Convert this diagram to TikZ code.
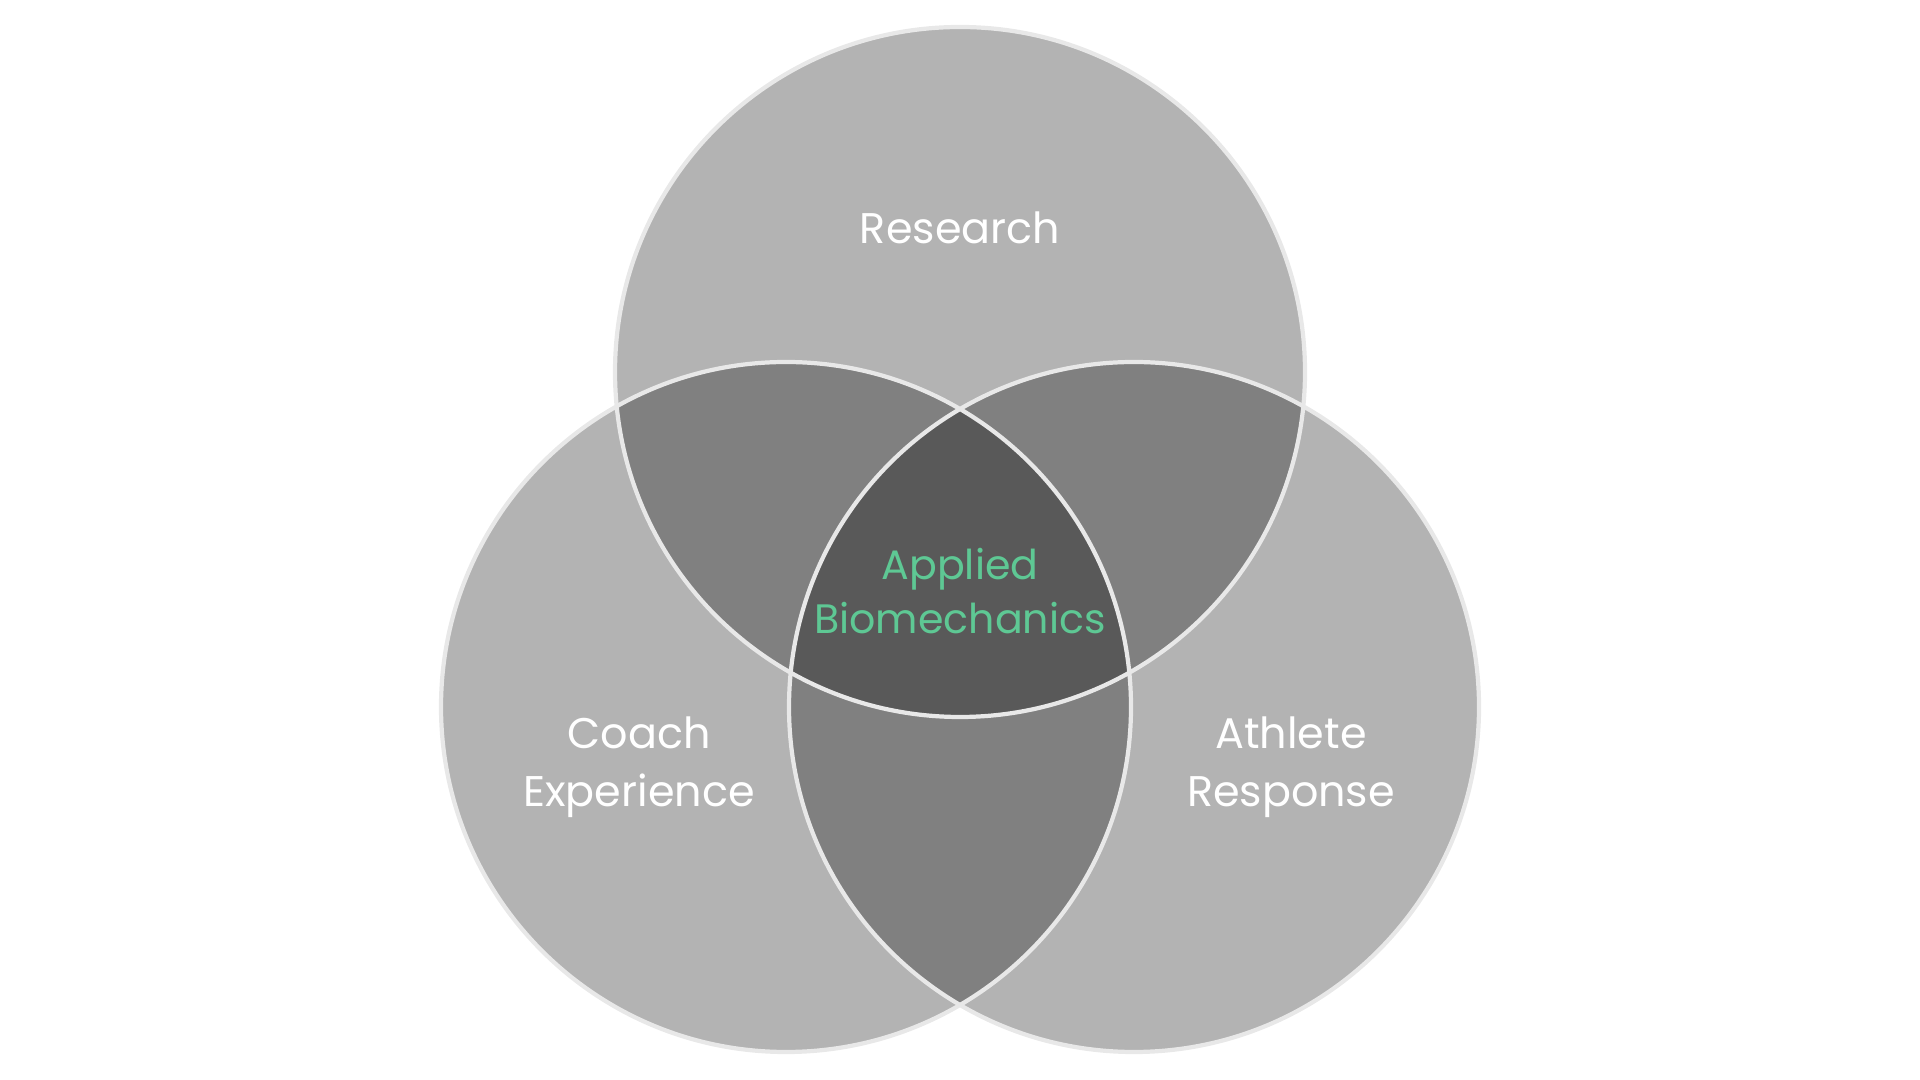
\documentclass[tikz,border=0pt]{standalone}
\usepackage{fontspec}
\setmainfont{Poppins}
\usetikzlibrary{positioning}
\definecolor{vennsingle}{RGB}{179,179,179}
\definecolor{vennpair}{RGB}{128,128,128}
\definecolor{venncore}{RGB}{89,89,89}
\definecolor{vennrim}{RGB}{232,232,232}
\definecolor{venngreen}{RGB}{94,200,148}
\newcommand{\vennr}{3.45}

\begin{document}
\begin{tikzpicture}[
  ring/.style={draw=vennrim,line width=1.2pt},
  venntag/.style={text=white,align=center,font=\fontsize{12.2}{16.4}\selectfont},
]
\useasboundingbox (0,0) rectangle (19.2,10.8);
\coordinate (top) at (9.60,7.08);
\coordinate (lft) at (7.86,3.73);
\coordinate (rgt) at (11.34,3.73);
% single areas
\fill[vennsingle] (top) circle (\vennr) (lft) circle (\vennr) (rgt) circle (\vennr);
% pairwise overlaps
\begin{scope}
  \clip (top) circle (\vennr);
  \fill[vennpair] (lft) circle (\vennr) (rgt) circle (\vennr);
\end{scope}
\begin{scope}
  \clip (lft) circle (\vennr);
  \fill[vennpair] (rgt) circle (\vennr);
\end{scope}
% centre
\begin{scope}
  \clip (top) circle (\vennr);
  \clip (lft) circle (\vennr);
  \fill[venncore] (rgt) circle (\vennr);
\end{scope}
% outlines
\draw[ring] (top) circle (\vennr) (lft) circle (\vennr) (rgt) circle (\vennr);
\node[venntag] (research) at (9.60,8.52) {Research};
\node[venntag] (coach) at (6.39,3.13) {Coach\\Experience};
\node[venntag] (athlete) at (12.91,3.13) {Athlete\\Response};
\node[venntag,text=venngreen,font=\fontsize{11.7}{15.4}\selectfont] (applied) at (9.60,4.89) {Applied\\Biomechanics};
\end{tikzpicture}
\end{document}
